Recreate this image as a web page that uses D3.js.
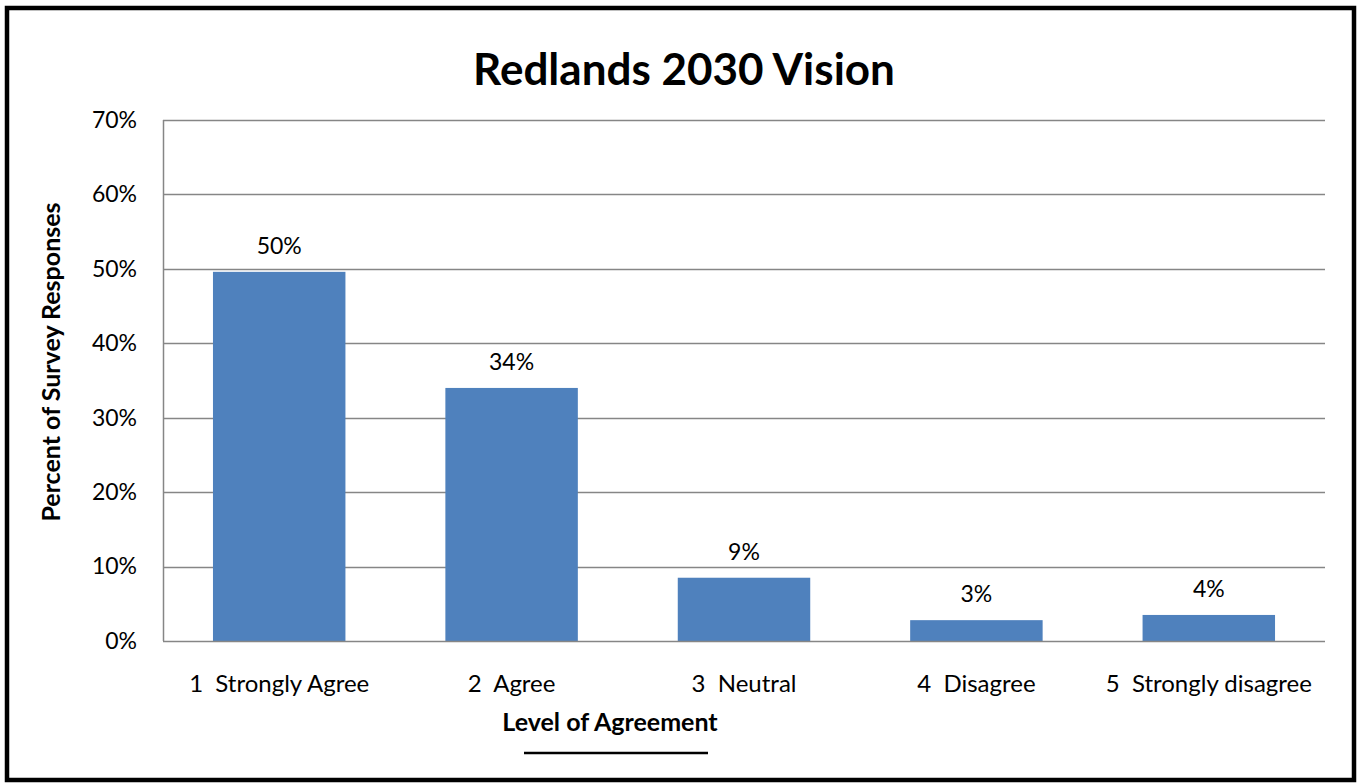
<!DOCTYPE html>
<html><head><meta charset="utf-8">
<script src="https://cdn.jsdelivr.net/npm/d3@7"></script>
<style>body{margin:0;background:#fff}svg{display:block}text{font-family:Lato,"Open Sans",sans-serif}</style>
</head><body>
<svg id="c" width="1360" height="783"></svg>
<script>
const categories = ["1  Strongly Agree","2  Agree","3  Neutral","4  Disagree","5  Strongly disagree"];
const values = [0.496, 0.340, 0.085, 0.028, 0.035];
const labels = ["50%","34%","9%","3%","4%"];
const yTicks = [0,0.1,0.2,0.3,0.4,0.5,0.6,0.7];

const svg = d3.select("#c");
const m={left:163,right:1325,top:120,bottom:641};

// outer frame
svg.append("rect").attr("x",7).attr("y",8).attr("width",1347).attr("height",772)
  .attr("fill","#fff").attr("stroke","#000").attr("stroke-width",4.5);

const x = d3.scaleBand().domain(categories).range([m.left,m.right]).paddingInner(0.43).paddingOuter(0.215);
const y = d3.scaleLinear().domain([0,0.7]).range([m.bottom,m.top]);

// gridlines
svg.append("g").selectAll("line").data(yTicks.filter(d=>d>0)).join("line")
  .attr("x1",m.left).attr("x2",m.right).attr("y1",d=>Math.round(y(d))+0.5).attr("y2",d=>Math.round(y(d))+0.5)
  .attr("stroke","#868686").attr("stroke-width",1.5);

// bars
svg.append("g").selectAll("rect").data(values).join("rect")
  .attr("x",(d,i)=>x(categories[i])).attr("width",x.bandwidth())
  .attr("y",d=>y(d)).attr("height",d=>y(0)-y(d)).attr("fill","#4F81BD");

// axes lines
svg.append("line").attr("x1",m.left+0.5).attr("x2",m.left+0.5).attr("y1",m.top).attr("y2",m.bottom)
  .attr("stroke","#868686").attr("stroke-width",1.5);
svg.append("line").attr("x1",m.left).attr("x2",m.right).attr("y1",m.bottom+0.5).attr("y2",m.bottom+0.5)
  .attr("stroke","#868686").attr("stroke-width",1.5);

// y tick labels
const yAxis = d3.axisLeft(y).tickValues(yTicks).tickFormat(d3.format(".0%")).tickSize(0).tickPadding(26);
const ya = svg.append("g").attr("transform",`translate(${m.left},0)`).call(yAxis);
ya.select(".domain").remove();
ya.selectAll("text").attr("font-size",23).attr("fill","#000").attr("font-family","Lato");

// x tick labels
const xAxis = d3.axisBottom(x).tickSize(0).tickPadding(34);
const xa = svg.append("g").attr("transform",`translate(0,${m.bottom})`).call(xAxis);
xa.select(".domain").remove();
xa.selectAll("text").attr("font-size",24).attr("fill","#000").attr("font-family","Lato").style("white-space","pre").attr("xml:space","preserve");

// data labels
svg.append("g").selectAll("text").data(values).join("text")
  .attr("x",(d,i)=>x(categories[i])+x.bandwidth()/2).attr("y",d=>y(d)-18)
  .attr("text-anchor","middle").attr("font-size",23).text((d,i)=>labels[i]);

// title
svg.append("text").attr("x",684).attr("y",85).attr("text-anchor","middle")
  .attr("font-size",44).attr("font-weight","bold").text("Redlands 2030 Vision");

// y title
svg.append("text").attr("transform","translate(60,362) rotate(-90)").attr("text-anchor","middle")
  .attr("font-size",25).attr("font-weight","bold").text("Percent of Survey Responses");

// x title
svg.append("text").attr("x",610).attr("y",731).attr("text-anchor","middle")
  .attr("font-size",25).attr("font-weight","bold").text("Level of Agreement");
svg.append("line").attr("x1",524).attr("x2",708).attr("y1",753).attr("y2",753).attr("stroke","#000").attr("stroke-width",2.5);
</script>
</body></html>
